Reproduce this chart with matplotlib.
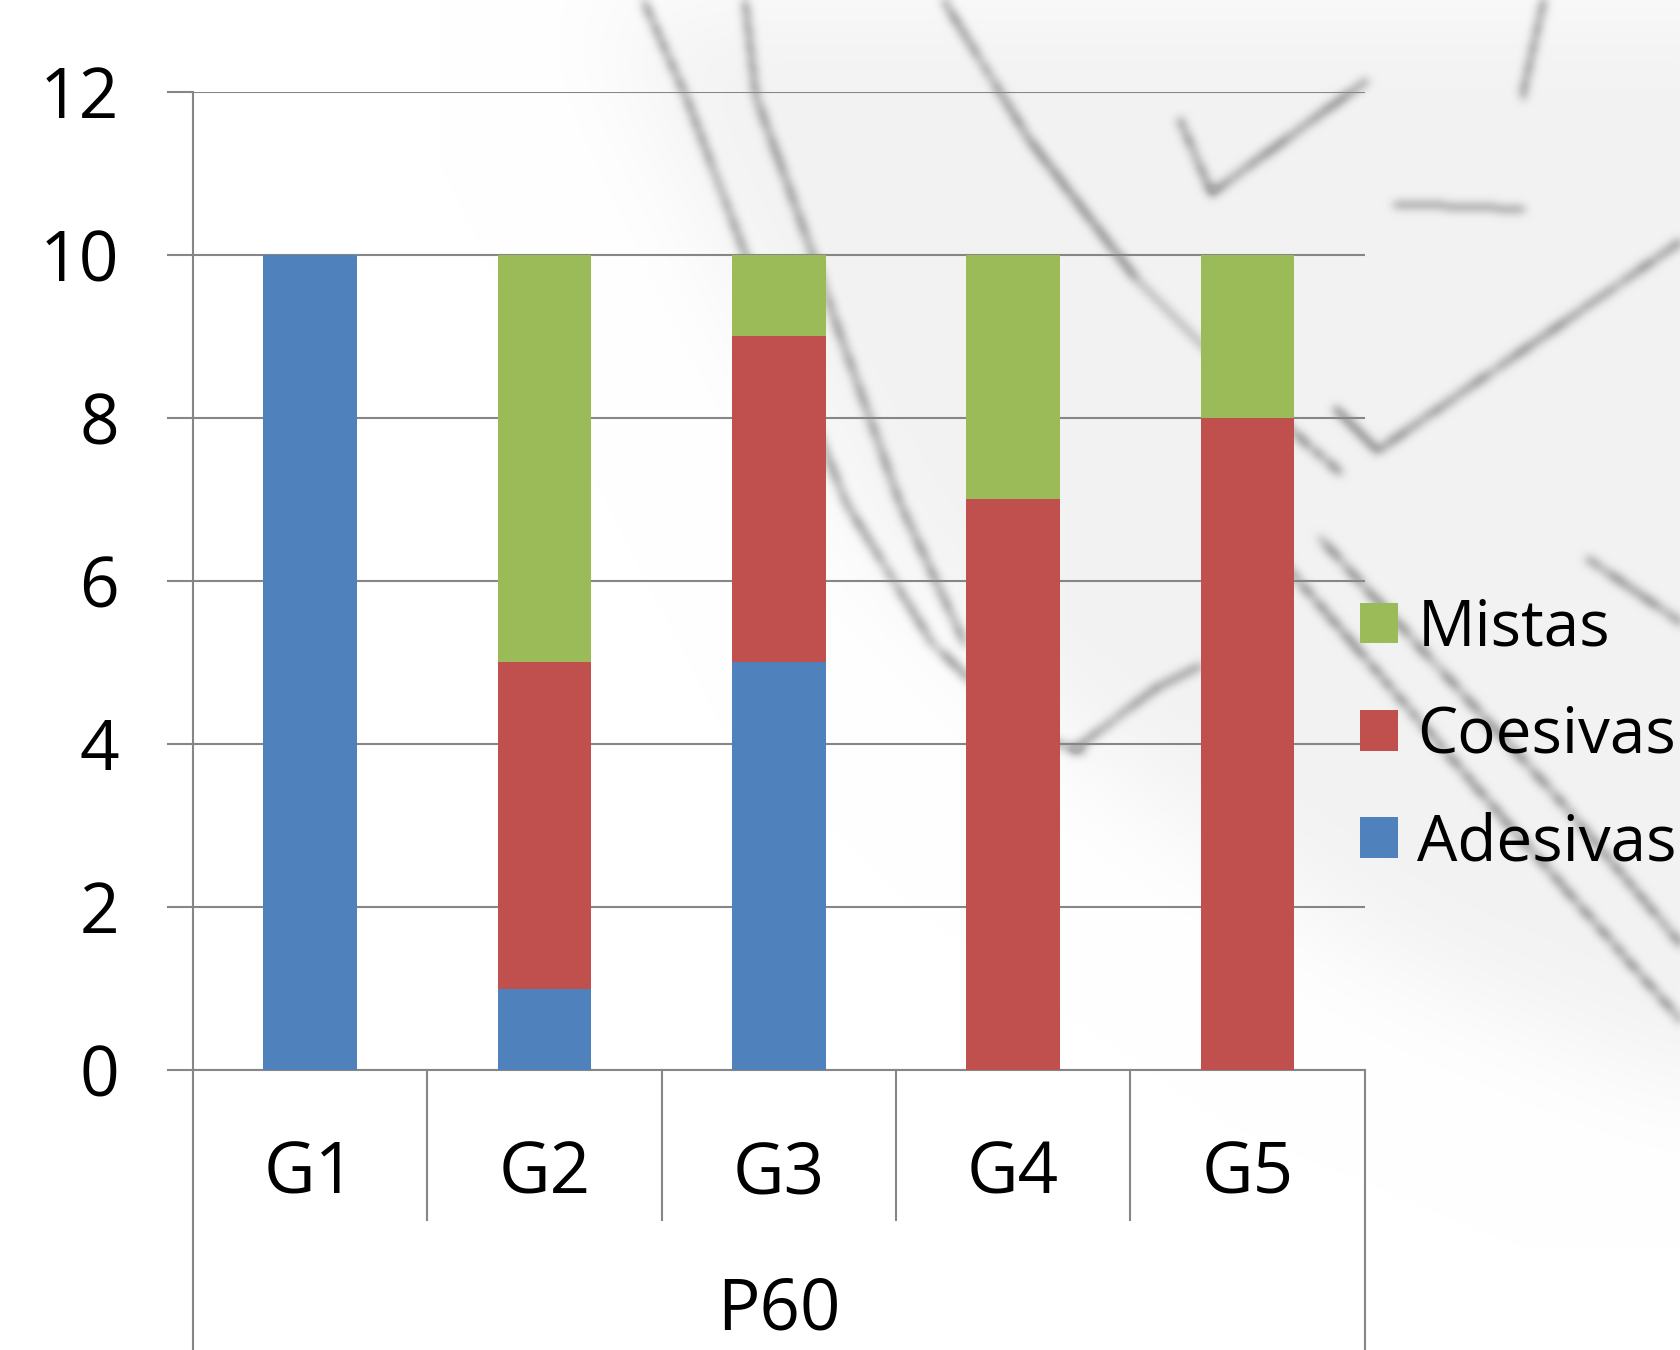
import numpy as np
import matplotlib.pyplot as plt
from matplotlib.lines import Line2D
from matplotlib.path import Path

groups = ["G1", "G2", "G3", "G4", "G5"]
adesivas = [10, 1, 5, 0, 0]
coesivas = [0, 4, 4, 7, 8]
mistas = [0, 5, 1, 3, 2]
yticks = [0, 2, 4, 6, 8, 10, 12]

# faint sketch behind the chart, as (x, y) pixel paths on a 1568x1259 canvas
haze = [(560, 0), (1568, 0), (1568, 1010), (1300, 900), (1010, 700), (820, 520), (680, 250)]
strokes = [
    [(600, 0), (640, 90), (700, 250), (790, 470), (870, 600), (960, 685), (1010, 700)],
    [(695, 0), (705, 90), (745, 200), (790, 330), (840, 470), (900, 600)],
    [(880, 0), (960, 130), (1060, 260), (1180, 380), (1250, 440)],
    [(1100, 110), (1130, 180), (1275, 75)],
    [(1245, 380), (1285, 420), (1568, 225)],
    [(1300, 190), (1420, 195)],
    [(1195, 522), (1400, 760), (1568, 951)],
    [(1230, 500), (1450, 740), (1568, 880)],
    [(1440, 0), (1420, 90)],
    [(1480, 520), (1568, 580)],
    [(1000, 700), (1080, 640), (1120, 620)],
]


def blur(img, sigma):
    r = int(3 * sigma)
    k = np.exp(-0.5 * (np.arange(-r, r + 1) / sigma) ** 2)
    k /= k.sum()
    img = np.apply_along_axis(lambda v: np.convolve(v, k, mode='same'), 0, img)
    return np.apply_along_axis(lambda v: np.convolve(v, k, mode='same'), 1, img)


def sketch_image(W=1568, H=1259, step=2):
    w, h = W // step, H // step
    gx, gy = np.meshgrid(np.arange(w) * step, np.arange(h) * step)
    pts = np.column_stack([gx.ravel(), gy.ravel()])
    fog = Path(haze).contains_points(pts).reshape(h, w).astype(float)
    fog = blur(np.pad(fog, 60, mode='edge'), 25)[60:-60, 60:-60]
    ink = np.zeros((h, w))
    for s in strokes:
        for (x0, y0), (x1, y1) in zip(s[:-1], s[1:]):
            n = int(np.hypot(x1 - x0, y1 - y0) / step * 2) + 2
            xs = np.clip((np.linspace(x0, x1, n) / step).astype(int), 0, w - 1)
            ys = np.clip((np.linspace(y0, y1, n) / step).astype(int), 0, h - 1)
            ink[ys, xs] = 1.0
    ink = blur(ink, 2.2)
    ink = np.clip(ink / ink.max() * 1.3, 0, 1)
    val = 1 - 0.05 * fog - 0.28 * ink
    return np.dstack([val, val, val])


plt.rcParams['font.family'] = ['Open Sans', 'DejaVu Sans']

fig = plt.figure(figsize=(16.81, 13.5), dpi=100)

bg = fig.add_axes([0, 0, 1, 1], zorder=0)
bg.imshow(sketch_image(), extent=(0, 1568, 1259, 0), interpolation='bilinear',
          aspect='auto')
bg.set_xlim(0, 1568)
bg.set_ylim(1259, 0)
bg.axis('off')

ax = fig.add_axes([0.1148, 0.2074, 0.697, 0.7245], zorder=1)
ax.patch.set_alpha(0)

x = np.arange(len(groups))
w = 0.4
c_ad, c_co, c_mi = '#4F81BD', '#C0504D', '#9BBB59'
ax.bar(x, adesivas, w, color=c_ad, label='Adesivas', zorder=3)
ax.bar(x, coesivas, w, bottom=adesivas, color=c_co, label='Coesivas', zorder=3)
bot = np.array(adesivas) + np.array(coesivas)
ax.bar(x, mistas, w, bottom=bot, color=c_mi, label='Mistas', zorder=3)

ax.set_xlim(-0.5, len(groups) - 0.5)
ax.set_ylim(0, 12)
ax.set_yticks(yticks)
ax.set_yticklabels([str(v) for v in yticks], fontsize=50)
ax.yaxis.grid(True, color='#868686', linewidth=1.5, zorder=0)
ax.tick_params(axis='y', length=19, width=1.5, color='#868686', pad=34)
ax.set_xticks([])
for s in ['top', 'right']:
    ax.spines[s].set_visible(False)
ax.spines['left'].set_color('#868686')
ax.spines['left'].set_linewidth(1.5)
ax.spines['bottom'].set_color('#868686')
ax.spines['bottom'].set_linewidth(1.5)

# two-level category axis below the plot
trans = ax.get_xaxis_transform()
for b in np.arange(0.5, len(groups) - 1, 1.0):
    ax.add_line(Line2D([b, b], [0, -0.153], transform=trans, color='#868686',
                       lw=1.5, clip_on=False))
for b in [-0.5, len(groups) - 0.5]:
    ax.add_line(Line2D([b, b], [0, -0.3], transform=trans, color='#868686',
                       lw=1.5, clip_on=False))
for xi, g in zip(x, groups):
    ax.text(xi, -0.107, g, transform=trans, ha='center', va='center', fontsize=51)
ax.text((len(groups) - 1) / 2, -0.246, 'P60', transform=trans, ha='center',
        va='center', fontsize=51)

h, l = ax.get_legend_handles_labels()
leg = fig.legend(h[::-1], l[::-1], loc='center left', bbox_to_anchor=(0.809, 0.455),
                 frameon=False, fontsize=46, handlelength=0.6, handleheight=0.6,
                 handletextpad=0.3, labelspacing=0.68, borderpad=0, borderaxespad=0)

fig.savefig('out.png', dpi=100)
